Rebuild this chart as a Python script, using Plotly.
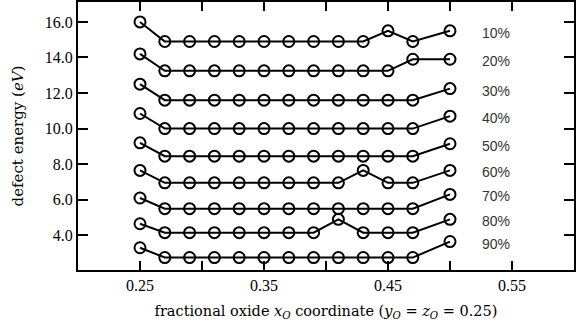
import plotly.graph_objects as go

x_coord = [0.25, 0.27, 0.29, 0.31, 0.33, 0.35, 0.37, 0.39, 0.41, 0.43, 0.45, 0.47, 0.50]

labels = ["10%", "20%", "30%", "40%", "50%", "60%", "70%", "80%", "90%"]

e10 = [16.0, 14.9, 14.9, 14.9, 14.9, 14.9, 14.9, 14.9, 14.9, 14.9, 15.5, 14.9, 15.5]
e20 = [14.2, 13.25, 13.25, 13.25, 13.25, 13.25, 13.25, 13.25, 13.25, 13.25, 13.25, 13.9, 13.9]
e30 = [12.5, 11.6, 11.6, 11.6, 11.6, 11.6, 11.6, 11.6, 11.6, 11.6, 11.6, 11.6, 12.25]
e40 = [10.85, 10.0, 10.0, 10.0, 10.0, 10.0, 10.0, 10.0, 10.0, 10.0, 10.0, 10.0, 10.7]
e50 = [9.2, 8.45, 8.45, 8.45, 8.45, 8.45, 8.45, 8.45, 8.45, 8.45, 8.45, 8.45, 9.15]
e60 = [7.65, 6.95, 6.95, 6.95, 6.95, 6.95, 6.95, 6.95, 6.95, 7.65, 6.95, 6.95, 7.65]
e70 = [6.1, 5.5, 5.5, 5.5, 5.5, 5.5, 5.5, 5.5, 5.5, 5.5, 5.5, 5.5, 6.3]
e80 = [4.65, 4.15, 4.15, 4.15, 4.15, 4.15, 4.15, 4.15, 4.9, 4.15, 4.15, 4.15, 4.9]
e90 = [3.3, 2.75, 2.75, 2.75, 2.75, 2.75, 2.75, 2.75, 2.75, 2.75, 2.75, 2.75, 3.65]

series = [e10, e20, e30, e40, e50, e60, e70, e80, e90]

x_tickvals = [0.25, 0.30, 0.35, 0.40, 0.45, 0.50, 0.55]
x_ticktext = ["0.25", "", "0.35", "", "0.45", "", "0.55"]
y_tickvals = [4, 6, 8, 10, 12, 14, 16]
y_ticktext = ["4.0", "6.0", "8.0", "10.0", "12.0", "14.0", "16.0"]

serif = "Liberation Serif"
title_serif = "DejaVu Serif"

fig = go.Figure()
for lab, ys in zip(labels, series):
    fig.add_trace(go.Scatter(
        x=x_coord, y=ys, mode="lines+markers", name=lab,
        line=dict(color="black", width=2),
        marker=dict(symbol="circle-open", size=11, color="black", line=dict(width=2)),
        showlegend=False, cliponaxis=False,
    ))
    fig.add_annotation(
        x=0.5245, y=ys[-1], text=lab, showarrow=False, xanchor="left",
        yanchor="middle", yshift=-2,
        font=dict(family="Liberation Sans", size=14, color="#333333"),
    )

fig.update_layout(
    width=576, height=322,
    margin=dict(l=78, r=2, t=0, b=52),
    plot_bgcolor="white", paper_bgcolor="white",
    font=dict(family=serif, size=16, color="black"),
)
fig.update_xaxes(
    range=[0.20, 0.60], tickvals=x_tickvals, ticktext=x_ticktext,
    ticks="inside", ticklen=9, tickwidth=2, tickcolor="black",
    showline=True, linecolor="black", linewidth=2, mirror="ticks",
    showgrid=False, zeroline=False,
    title=dict(text="fractional oxide <i>x<sub>O</sub></i> coordinate (<i>y<sub>O</sub></i> = <i>z<sub>O</sub></i> = 0.25)",
               font=dict(family=title_serif, size=14.5), standoff=13),
)
fig.update_yaxes(
    range=[2.05, 17.12], tickvals=y_tickvals, ticktext=y_ticktext,
    ticks="inside", ticklen=10, tickwidth=2, tickcolor="black",
    showline=True, linecolor="black", linewidth=2, mirror="ticks",
    showgrid=False, zeroline=False,
    title=dict(text="defect energy (<i>eV</i>)", font=dict(family=title_serif, size=15), standoff=18),
)

fig.write_html("out.html")
